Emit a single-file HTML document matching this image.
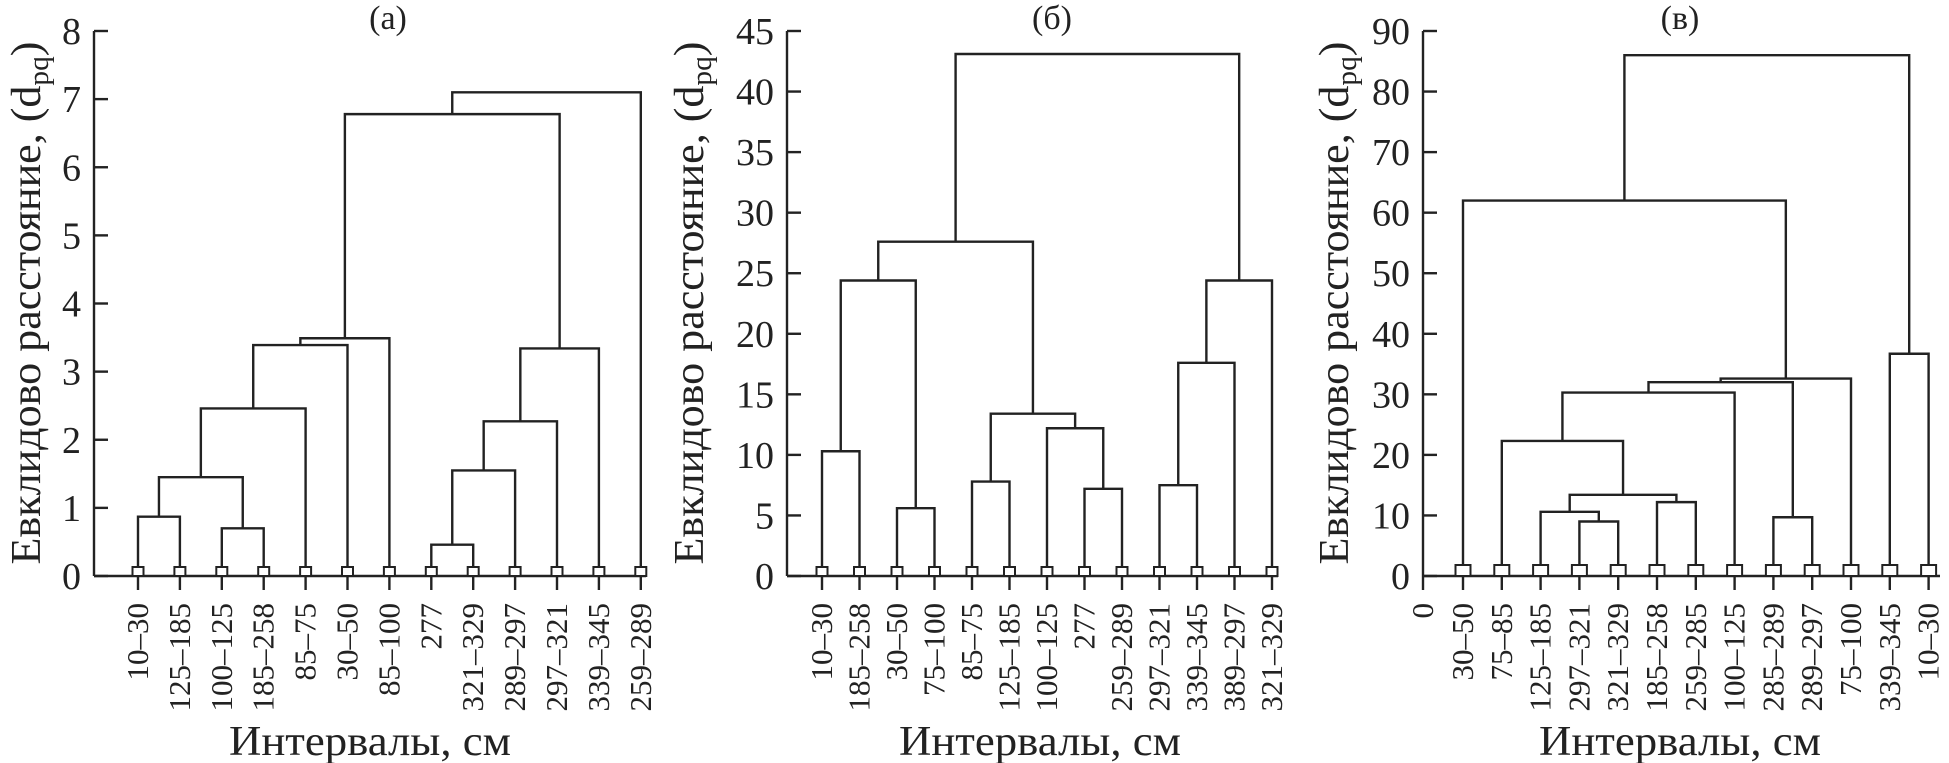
<!DOCTYPE html>
<html><head><meta charset="utf-8"><style>
html,body{margin:0;padding:0;background:#fff;}
svg{display:block;}
svg text{font-family:"Liberation Serif","Times New Roman",serif;}
</style></head><body>
<svg id="chart" width="1949" height="763" viewBox="0 0 1949 763" xmlns="http://www.w3.org/2000/svg"></svg>
<script>
// Panel (a)
const labelsA = ["10–30","125–185","100–125","185–258","85–75","30–50","85–100","277","321–329","289–297","297–321","339–345","259–289"];
// merges: [leftNode, rightNode, height]; leaves 0..12, new nodes 13..
const mergesA = [[0,1,0.87],[2,3,0.70],[13,14,1.45],[15,4,2.46],[16,5,3.39],[17,6,3.49],[7,8,0.46],[19,9,1.55],[20,10,2.27],[21,11,3.34],[18,22,6.78],[23,12,7.10]];
const ticksA = [0,1,2,3,4,5,6,7,8];
// Panel (б)
const labelsB = ["10–30","185–258","30–50","75–100","85–75","125–185","100–125","277","259–289","297–321","339–345","389–297","321–329"];
const mergesB = [[0,1,10.3],[2,3,5.6],[13,14,24.4],[4,5,7.8],[7,8,7.2],[6,17,12.2],[16,18,13.4],[15,19,27.6],[9,10,7.5],[21,11,17.6],[22,12,24.4],[20,23,43.1]];
const ticksB = [0,5,10,15,20,25,30,35,40,45];
// Panel (в)
const labelsC = ["30–50","75–85","125–185","297–321","321–329","185–258","259–285","100–125","285–289","289–297","75–100","339–345","10–30"];
const mergesC = [[3,4,9.0],[2,13,10.6],[5,6,12.2],[14,15,13.4],[1,16,22.3],[17,7,30.3],[8,9,9.7],[18,19,32.0],[20,10,32.6],[0,21,62.0],[11,12,36.7],[22,23,86.0]];
const ticksC = [0,10,20,30,40,50,60,70,80,90];

const NS="http://www.w3.org/2000/svg";
const FF='"Liberation Serif", "Times New Roman", serif';
const svg=document.getElementById('chart');
function mk(tag,attrs,parent){const e=document.createElementNS(NS,tag);for(const k in attrs)e.setAttribute(k,attrs[k]);if(tag==='text')e.setAttribute('font-family',FF);(parent||svg).appendChild(e);return e;}

function panel(cfg){
  const g=mk('g',{});
  
  
  const y0=576, yTop=31;
  const yS=v=>y0-(v/cfg.max)*(y0-yTop);
  const xS=i=>cfg.x0+cfg.first+i*cfg.step;
  const stroke={stroke:'#222','stroke-width':2.4,fill:'none'};
  const ax=mk('line',Object.assign({x1:cfg.x0,y1:yTop,x2:cfg.x0,y2:y0},stroke),g);
  
  
  const xa=mk('line',Object.assign({x1:cfg.x0,y1:y0,x2:cfg.xEnd,y2:y0},stroke),g);
  
  
  cfg.ticks.forEach(t=>{
    const y=yS(t);
    const tl=mk('line',Object.assign({x1:cfg.x0,y1:y,x2:cfg.x0+14,y2:y},stroke),g);
    
    
    const tx=mk('text',{x:cfg.x0-13,y:y+13,'text-anchor':'end','font-size':38,fill:'#222'},g);
    
    
    tx.textContent=t;
  });
  const nx=[],ny=[];
  cfg.labels.forEach((l,i)=>{nx.push(xS(i));ny.push(0);});
  cfg.merges.forEach(m=>{
    const [a,b,h]=m;
    const xa1=nx[a],xb=nx[b],ya=yS(ny[a]),yb=yS(ny[b]),yh=yS(h);
    const p=mk('path',Object.assign({d:`M${xa1},${ya}V${yh}H${xb}V${yb}`},stroke),g);
    
    
    nx.push((xa1+xb)/2);ny.push(h);
  });
  if(cfg.zeroLabel){
    const zl=mk('line',Object.assign({x1:cfg.x0,y1:y0,x2:cfg.x0,y2:y0+14},stroke),g);
    
    
    const zt=mk('text',{transform:`translate(${cfg.x0+10},603) rotate(-90)`,'text-anchor':'end','font-size':31,fill:'#222'},g);
    
    
    zt.textContent='0';
  }
  cfg.labels.forEach((l,i)=>{
    const x=xS(i);
    const tk=mk('line',Object.assign({x1:x,y1:y0,x2:x,y2:y0+14},stroke),g);
    
    
    const sq=mk('rect',{x:x-cfg.sq/2,y:y0-cfg.sqh,width:cfg.sq,height:cfg.sqh,fill:'#fff',stroke:'#222','stroke-width':2},g);
    
    
    const t=mk('text',{transform:`translate(${x+10},603) rotate(-90)`,'text-anchor':'end','font-size':31,fill:'#222'},g);
    
    
    t.textContent=l;
  });
  const tt=mk('text',{x:cfg.titleX,y:29,'text-anchor':'middle','font-size':34,fill:'#222'},g);
  
  
  tt.textContent=cfg.title;
  const xt=mk('text',{x:cfg.xTitleX,y:755,'text-anchor':'middle','font-size':42,fill:'#222',textLength:282,lengthAdjust:'spacingAndGlyphs'},g);
  
  
  xt.textContent='Интервалы, см';
  const yt=mk('text',{transform:`translate(${cfg.yTitleX},303) rotate(-90)`,'text-anchor':'middle','font-size':42,fill:'#222',textLength:523,lengthAdjust:'spacingAndGlyphs'},g);
  
  
  yt.innerHTML='Евклидово расстояние, (d<tspan font-size="28" dy="8">pq</tspan><tspan dy="-8">)</tspan>';
}
panel({name:'panel-a',labels:labelsA,merges:mergesA,ticks:ticksA,max:8,x0:94,first:44,step:41.9,xEnd:646,sq:11,sqh:9,title:'(а)',titleX:388,xTitleX:370,yTitleX:40});
panel({name:'panel-b',labels:labelsB,merges:mergesB,ticks:ticksB,max:45,x0:787,first:35,step:37.5,xEnd:1278,sq:11,sqh:9,title:'(б)',titleX:1052,xTitleX:1040,yTitleX:703});
panel({name:'panel-c',labels:labelsC,merges:mergesC,ticks:ticksC,max:90,x0:1423,first:40,step:38.8,xEnd:1940,sq:15,sqh:11,title:'(в)',titleX:1680,xTitleX:1680,yTitleX:1348,zeroLabel:true});
</script>
</body></html>
